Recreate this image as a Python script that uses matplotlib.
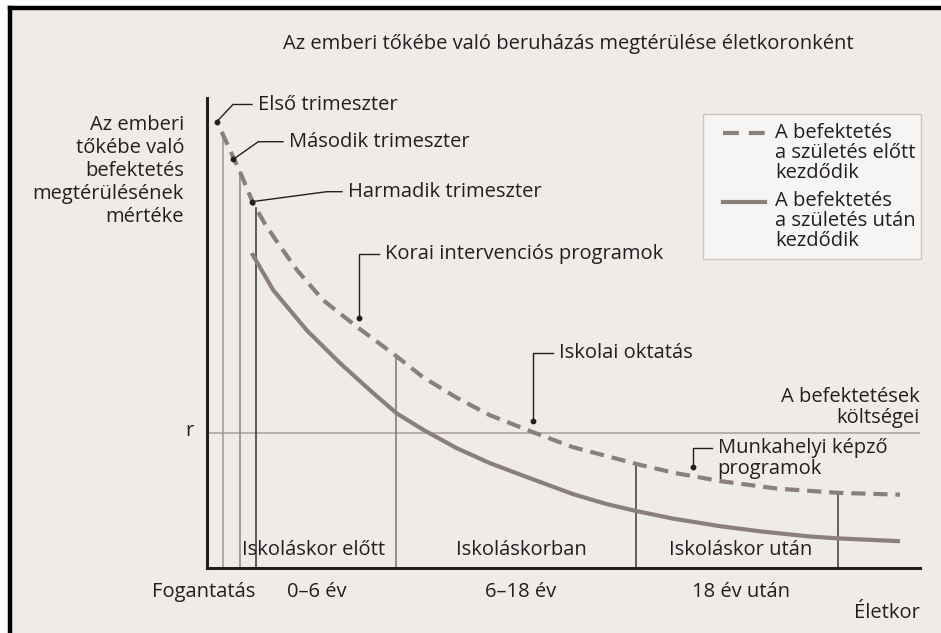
import numpy as np
import matplotlib
matplotlib.use("Agg")
import matplotlib.pyplot as plt
from matplotlib.lines import Line2D
from matplotlib.patches import Rectangle

plt.rcParams['font.family'] = ['Open Sans', 'DejaVu Sans']

# curve data (age on an arbitrary 0-100 scale, return 0-100)
pre_x = [2.06, 3.23, 4.63, 6.45, 8.13, 9.82, 12.62, 16.27, 21.04, 26.37, 30.29, 35.06,
         39.69, 45.72, 51.33, 56.10, 60.31, 65.36, 71.95, 79.94, 88.36, 97.2]
pre_y = [92.8, 88.9, 84.3, 77.7, 73.2, 69.4, 63.4, 57.0, 51.3, 45.3, 40.6, 36.2,
         32.5, 28.9, 25.7, 23.8, 22.1, 20.3, 18.5, 16.9, 16.0, 15.6]
post_x = [6.27, 9.30, 13.98, 18.65, 23.32, 26.61, 30.34, 35.02, 39.69, 45.30, 51.37,
          56.06, 60.27, 65.40, 71.95, 77.56, 84.57, 88.5, 97.19]
post_y = [67.0, 59.1, 50.6, 43.6, 37.2, 32.9, 29.4, 25.5, 22.3, 19.1, 15.7,
          13.6, 12.1, 10.5, 8.9, 7.8, 6.7, 6.3, 5.7]
cost_r = 28.7

# vertical marker lines (stage boundaries)
stage_x = [2.24, 4.63, 6.87, 26.5, 60.2, 88.5]
stage_col = ['#9a9a9a', '#8a8a8a', '#333333', '#777777', '#3a3a3a', '#3a3a3a']

periods = ['Iskoláskor előtt', 'Iskoláskorban', 'Iskoláskor után']
period_x = [15.0, 44.1, 74.8]
age_labels = ['Fogantatás', '0–6 év', '6–18 év', '18 év után']
age_px = [204, 317, 521, 741]

legend_labels = [['A befektetés', 'a születés előtt', 'kezdődik'],
                 ['A befektetés', 'a születés után', 'kezdődik']]

W, H = 941, 633
bg = '#eeebe8'
curve_col = '#8b8079'
txt_col = '#231f20'
fs = 14.5


def fp(x, y):
    return x / W, 1 - y / H


def text_lines(x, y0, dy, rows, ha='left'):
    for i, r in enumerate(rows):
        fig.text(*fp(x, y0 + i * dy), r, ha=ha, va='center', fontsize=fs,
                 color=txt_col, zorder=8)


fig = plt.figure(figsize=(W / 100, H / 100), dpi=100)
fig.patch.set_facecolor('white')
fig.patches.append(Rectangle((10 / W, 0), 1, 1 - 8 / H, transform=fig.transFigure,
                             facecolor=bg, edgecolor='none', zorder=-10))
fig.add_artist(Line2D([10 / W, 1], [1 - 8 / H] * 2, color='black', lw=3.2, transform=fig.transFigure))
fig.add_artist(Line2D([10 / W] * 2, [0, 1 - 8 / H], color='black', lw=3.2, transform=fig.transFigure))

ax = fig.add_axes([207 / W, (H - 568) / H, 713 / W, 470 / H])
ax.set_facecolor('none')
ax.set_zorder(1)
ax.set_xlim(0, 100)
ax.set_ylim(0, 100)
for s in ['top', 'right']:
    ax.spines[s].set_visible(False)
for s in ['left', 'bottom']:
    ax.spines[s].set_linewidth(2.2)
    ax.spines[s].set_color('#231f20')
ax.set_xticks([])
ax.set_yticks([])

# cost line
ax.axhline(cost_r, color='#b3aaa3', lw=1.3, zorder=1)

# stage lines up to the pre-birth curve
for xv, c in zip(stage_x, stage_col):
    top = np.interp(xv, pre_x, pre_y)
    ax.plot([xv, xv], [0, top], color=c, lw=1.1, zorder=2)

ax.plot(pre_x, pre_y, color=curve_col, lw=3.0, linestyle=(0, (3.4, 1.9)), zorder=3)
ax.plot(post_x, post_y, color=curve_col, lw=3.0, solid_capstyle='butt', zorder=3)

# callouts: (dot, elbow, line end)
callouts = [
    (['Első trimeszter'], (216.7, 121.7), (233, 104.5), (252, 104.5)),
    (['Második trimeszter'], (233.3, 159.3), (258.3, 141.7), (283, 141.7)),
    (['Harmadik trimeszter'], (251.7, 201.7), (326.7, 191.7), (342, 191.7)),
    (['Korai intervenciós programok'], (359.3, 317.7), (359.3, 254), (379.3, 254)),
    (['Iskolai oktatás'], (533.3, 420.7), (533.3, 353.3), (552.7, 353.3)),
    (['Munkahelyi képző', 'programok'], (692.7, 466.7), (692.7, 447.7), (711.7, 447.7)),
]
for rows, d, e, t in callouts:
    xs = [fp(*d)[0], fp(*e)[0], fp(*t)[0]]
    ys = [fp(*d)[1], fp(*e)[1], fp(*t)[1]]
    fig.add_artist(Line2D(xs, ys, color='#231f20', lw=1.0, transform=fig.transFigure, zorder=5))
    fig.add_artist(Line2D([xs[0]], [ys[0]], marker='o', ms=3.2, color='#231f20',
                          transform=fig.transFigure, zorder=5))
    text_lines(t[0] + 6, t[1], 21.3, rows)

# title
fig.text(*fp(568, 44), 'Az emberi tőkébe való beruházás megtérülése életkoronként',
         ha='center', va='center', fontsize=fs, color=txt_col)

# y label
text_lines(184, 125, 23, ['Az emberi', 'tőkébe való', 'befektetés', 'megtérülésének', 'mértéke'],
           ha='right')
fig.text(*fp(189, 431), 'r', ha='center', va='center', fontsize=fs, color=txt_col)

# cost label
text_lines(920, 397, 20.6, ['A befektetések', 'költségei'], ha='right')

# period labels inside axes
for lab, xv in zip(periods, period_x):
    ax.text(xv, 3.8, lab, ha='center', va='center', fontsize=fs, color=txt_col)

# age labels below axis
for lab, xv in zip(age_labels, age_px):
    fig.text(*fp(xv, 592), lab, ha='center', va='center', fontsize=fs, color=txt_col)
fig.text(*fp(920, 613), 'Életkor', ha='right', va='center', fontsize=fs, color=txt_col)

# legend box
lx0, ly0 = fp(703, 259)
lx1, ly1 = fp(921, 114)
fig.patches.append(Rectangle((lx0, ly0), lx1 - lx0, ly1 - ly0, transform=fig.transFigure,
                             facecolor='#f6f5f3', edgecolor='#c9c6c3', lw=1.0, zorder=6))
styles = [(0, (3.8, 2.4)), '-']
for i, (rows, ls) in enumerate(zip(legend_labels, styles)):
    yy = 133 + i * 68.5
    fig.add_artist(Line2D([fp(723, 0)[0], fp(765, 0)[0]], [fp(0, yy)[1]] * 2, color=curve_col,
                          lw=3.0, linestyle=ls, transform=fig.transFigure, zorder=7))
    text_lines(775, yy, 20, rows)

fig.savefig('out.png', dpi=100, facecolor=fig.get_facecolor())
